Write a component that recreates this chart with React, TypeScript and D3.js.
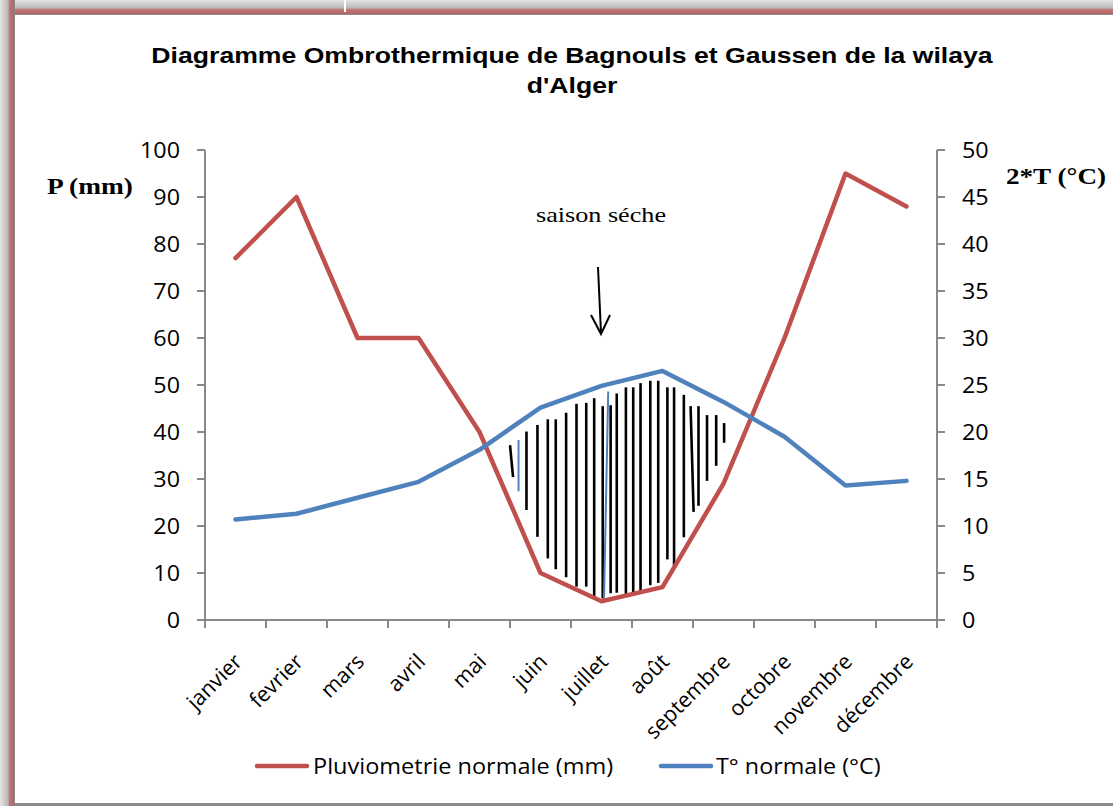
import React from "react";
import * as d3 from "d3";

const months = ["janvier","fevrier","mars","avril","mai","juin","juillet","août","septembre","octobre","novembre","décembre"];
const precip = [77, 90, 60, 60, 40, 10, 4, 7, 29, 60, 95, 88];
const temp = [10.7, 11.3, 13, 14.7, 18.1, 22.6, 24.9, 26.5, 23.2, 19.5, 14.3, 14.8];
const leftTicks = [0, 10, 20, 30, 40, 50, 60, 70, 80, 90, 100];
const rightTicks = [0, 5, 10, 15, 20, 25, 30, 35, 40, 45, 50];
// hand-drawn hatching of the dry season: [month index top, month index bottom, P top, P bottom, blue?]
const hatches: [number, number, number, number, number][] = [
  [4.50, 4.55, 37.2, 30.4, 0],
  [4.64, 4.64, 38.3, 27.4, 1],
  [4.77, 4.77, 40.1, 23.4, 0],
  [4.95, 4.95, 41.5, 17.7, 0],
  [5.12, 5.12, 42.7, 13.1, 0],
  [5.25, 5.25, 42.7, 10.8, 0],
  [5.42, 5.42, 44.1, 9.1, 0],
  [5.59, 5.59, 46.0, 7.1, 0],
  [5.75, 5.75, 46.2, 7.1, 0],
  [5.88, 5.88, 47.2, 4.8, 0],
  [6.02, 6.02, 45.5, 4.6, 0],
  [6.11, 6.04, 48.6, 3.9, 1],
  [6.15, 6.15, 45.7, 5.7, 0],
  [6.25, 6.25, 48.2, 5.8, 0],
  [6.40, 6.40, 49.5, 5.0, 0],
  [6.52, 6.52, 49.5, 5.7, 0],
  [6.64, 6.64, 50.4, 5.9, 0],
  [6.80, 6.80, 50.9, 7.4, 0],
  [6.93, 6.93, 50.9, 7.9, 0],
  [7.08, 7.08, 49.5, 12.9, 0],
  [7.19, 7.19, 49.5, 11.3, 0],
  [7.35, 7.35, 47.9, 17.6, 0],
  [7.46, 7.51, 45.5, 23.0, 0],
  [7.59, 7.59, 45.5, 24.3, 0],
  [7.73, 7.73, 43.6, 29.6, 0],
  [7.88, 7.88, 43.6, 32.8, 0],
  [8.01, 8.01, 41.9, 37.7, 0],
];

const RED = "#C0504D";
const BLUE = "#4F81BD";
const AXIS = "#898989";
const TICKFONT = "'Open Sans', sans-serif";
const SERIF = "'Liberation Serif', 'Times New Roman', serif";
const SANS = "'Liberation Sans', Arial, sans-serif";

export default function App() {
  const W = 1113, H = 806;
  const left = 205, right = 937, top = 150, bottom = 620;
  const x = d3.scaleBand<string>().domain(months).range([left, right]);
  const bw = x.bandwidth();
  const cx = (m: string) => (x(m) as number) + bw / 2;
  const xi = d3.scaleLinear().domain([0, 11]).range([cx(months[0]), cx(months[11])]);
  const yL = d3.scaleLinear().domain([0, 100]).range([bottom, top]);
  const yR = d3.scaleLinear().domain([0, 50]).range([bottom, top]);

  const pLine = d3.line<number>().x((_, i) => cx(months[i])).y((d) => yL(d))(precip) as string;
  const tLine = d3.line<number>().x((_, i) => cx(months[i])).y((d) => yR(d))(temp) as string;

  const tickX = months.map((m) => x(m) as number).concat([right]);

  return (
    <svg width={W} height={H} style={{ position: "absolute", left: 0, top: 0 }} xmlns="http://www.w3.org/2000/svg">
      <defs>
        <linearGradient id="gTop" x1="0" y1="0" x2="0" y2="1">
          <stop offset="0" stopColor="#e4e4e4" />
          <stop offset="0.55" stopColor="#b8b8b8" />
          <stop offset="0.6" stopColor="#c07a7a" />
          <stop offset="0.92" stopColor="#b46464" />
          <stop offset="0.93" stopColor="#8a8a8a" />
          <stop offset="1" stopColor="#8a8a8a" />
        </linearGradient>
        <linearGradient id="gLeft" x1="0" y1="0" x2="1" y2="0">
          <stop offset="0" stopColor="#e4e4e4" />
          <stop offset="0.55" stopColor="#b8b8b8" />
          <stop offset="0.6" stopColor="#c07a7a" />
          <stop offset="0.92" stopColor="#b46464" />
          <stop offset="0.93" stopColor="#8a8a8a" />
          <stop offset="1" stopColor="#8a8a8a" />
        </linearGradient>
      </defs>
      <rect x={0} y={0} width={W} height={H} fill="#ffffff" />
      <rect x={0} y={0} width={W} height={15} fill="url(#gTop)" />
      <rect x={0} y={0} width={15} height={H} fill="url(#gLeft)" />
      <rect x={344} y={0} width={2} height={12} fill="#ffffff" />
      <rect x={15} y={H - 3} width={W - 15} height={3} fill="#8a8a8a" />

      {/* title */}
      <g transform="translate(572,63) scale(1.21,1)">
        <text x={0} y={0} textAnchor="middle" fontFamily={SANS} fontWeight="bold" fontSize={22}>
          Diagramme Ombrothermique de Bagnouls et Gaussen de la wilaya
        </text>
      </g>
      <g transform="translate(572,93) scale(1.21,1)">
        <text x={0} y={0} textAnchor="middle" fontFamily={SANS} fontWeight="bold" fontSize={22}>
          d'Alger
        </text>
      </g>

      {/* axis titles */}
      <g transform="translate(47,194) scale(1.19,1)">
        <text fontFamily={SERIF} fontWeight="bold" fontSize={23}>P (mm)</text>
      </g>
      <g transform="translate(1006,184) scale(1.18,1)">
        <text fontFamily={SERIF} fontWeight="bold" fontSize={23}>2*T (°C)</text>
      </g>

      {/* left axis */}
      <line x1={left} y1={top} x2={left} y2={bottom} stroke={AXIS} strokeWidth={2} />
      {leftTicks.map((t) => (
        <g key={"l" + t}>
          <line x1={left - 8} x2={left} y1={yL(t)} y2={yL(t)} stroke={AXIS} strokeWidth={2} />
          <text transform={`translate(180,${yL(t)}) scale(1.11,1)`} dy="0.36em" textAnchor="end" fontFamily={TICKFONT} fontSize={21} fill="#000">{t}</text>
        </g>
      ))}
      {/* right axis */}
      <line x1={right} y1={top} x2={right} y2={bottom} stroke={AXIS} strokeWidth={2} />
      {rightTicks.map((t) => (
        <g key={"r" + t}>
          <line x1={right} x2={right + 8} y1={yR(t)} y2={yR(t)} stroke={AXIS} strokeWidth={2} />
          <text transform={`translate(962,${yR(t)}) scale(1.11,1)`} dy="0.36em" textAnchor="start" fontFamily={TICKFONT} fontSize={21} fill="#000">{t}</text>
        </g>
      ))}
      {/* x axis */}
      <line x1={left} y1={bottom} x2={right} y2={bottom} stroke={AXIS} strokeWidth={2} />
      {tickX.map((tx, i) => (
        <line key={"x" + i} x1={tx} x2={tx} y1={bottom} y2={bottom + 8} stroke={AXIS} strokeWidth={2} />
      ))}
      {months.map((m) => (
        <text key={m} transform={`translate(${cx(m) + 8},${bottom + 43}) rotate(-45)`} textAnchor="end"
          fontFamily={TICKFONT} fontSize={21.5} fill="#000">{m}</text>
      ))}

      {/* hatching */}
      {hatches.map((h, i) => (
        <line key={"h" + i} x1={xi(h[0])} y1={yL(h[2])} x2={xi(h[1])} y2={yL(h[3])}
          stroke={h[4] ? BLUE : "#000"} strokeWidth={h[4] ? 2 : 2.6} />
      ))}

      {/* series */}
      <path d={pLine} fill="none" stroke={RED} strokeWidth={4.5} strokeLinejoin="round" strokeLinecap="round" />
      <path d={tLine} fill="none" stroke={BLUE} strokeWidth={4.5} strokeLinejoin="round" strokeLinecap="round" />

      {/* annotation */}
      <g transform="translate(601,222) scale(1.19,1)">
        <text textAnchor="middle" fontFamily={SERIF} fontSize={22}>saison séche</text>
      </g>
      <line x1={598} y1={267} x2={601} y2={333} stroke="#000" strokeWidth={2} />
      <polyline points="591,315 601,334 610,315" fill="none" stroke="#000" strokeWidth={2} />

      {/* legend */}
      <line x1={257} x2={307} y1={766} y2={766} stroke={RED} strokeWidth={4.5} strokeLinecap="round" />
      <text transform="translate(313,766) scale(1.12,1)" dy="0.36em" fontFamily={TICKFONT} fontSize={21} fill="#000">Pluviometrie normale (mm)</text>
      <line x1={661} x2={711} y1={766} y2={766} stroke={BLUE} strokeWidth={4.5} strokeLinecap="round" />
      <text transform="translate(716,766) scale(1.11,1)" dy="0.36em" fontFamily={TICKFONT} fontSize={21} fill="#000">T° normale (°C)</text>
    </svg>
  );
}
